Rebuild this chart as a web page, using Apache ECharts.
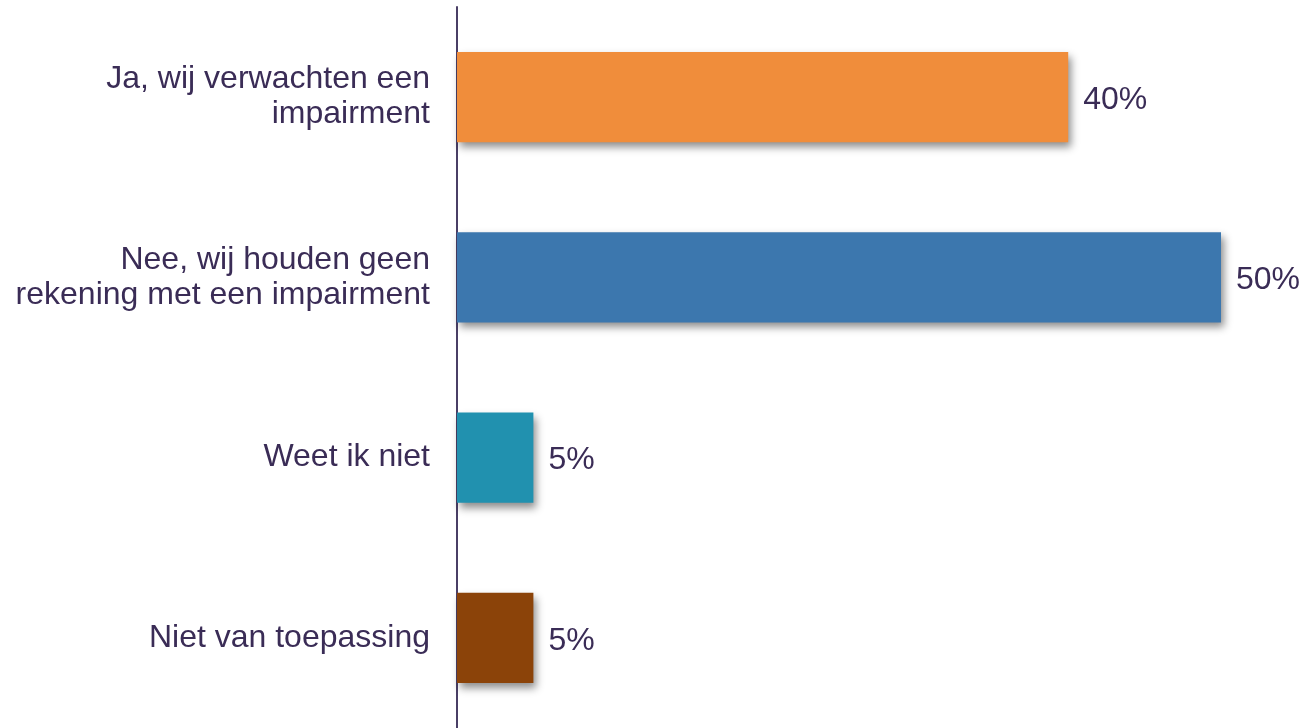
<!DOCTYPE html>
<html><head><meta charset="utf-8">
<script src="https://cdn.jsdelivr.net/npm/echarts@6/dist/echarts.min.js"></script>
<style>html,body{margin:0;padding:0;background:#fff}#c{width:1304px;height:728px}</style>
</head><body><div id="c"></div>
<script>
const categories = ["Ja, wij verwachten een\nimpairment", "Nee, wij houden geen\nrekening met een impairment", "Weet ik niet", "Niet van toepassing"];
const values = [40, 50, 5, 5];
const colors = ["#F08D3B", "#3C77AE", "#2191AF", "#8B4309"];

const FONT = "'Liberation Sans', Arial, sans-serif";
const chart = echarts.init(document.getElementById('c'));
chart.setOption({
  animation: false,
  grid: {left: 457, right: 83, top: 7, bottom: -2, containLabel: false},
  xAxis: {type: 'value', min: 0, max: 50, show: false},
  yAxis: {
    type: 'category', data: categories, inverse: true,
    axisLine: {show: true, lineStyle: {color: '#4a3f66', width: 2}},
    axisTick: {show: false},
    axisLabel: {color: '#3a2c56', fontSize: 32, fontFamily: FONT, margin: 27, lineHeight: 35, align: 'right', padding: [12, 0, 0, 0]}
  },
  series: [{
    type: 'bar',
    data: values.map((v, i) => ({value: v, itemStyle: {color: colors[i]}})),
    barCategoryGap: '50%',
    itemStyle: {shadowColor: 'rgba(0,0,0,0.45)', shadowBlur: 8, shadowOffsetX: 3, shadowOffsetY: 5},
    label: {show: true, position: 'right', distance: 15, offset: [0, 3], formatter: '{c}%', color: '#3a2c56', fontSize: 32, fontFamily: FONT}
  }]
});
</script></body></html>
